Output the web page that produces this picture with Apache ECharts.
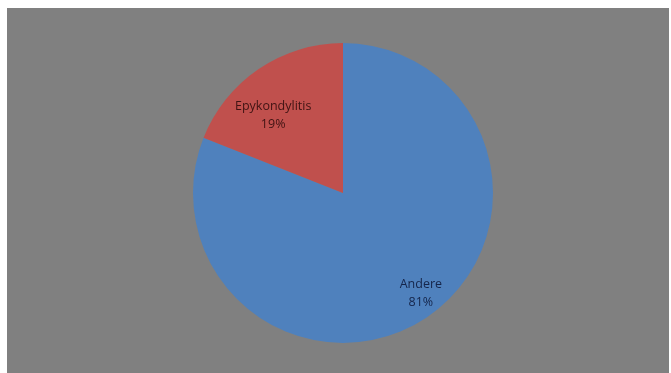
<!DOCTYPE html>
<html>
<head>
<meta charset="utf-8">
<script src="https://cdn.jsdelivr.net/npm/echarts@6/dist/echarts.min.js"></script>
<style>
	html, body { margin: 0; padding: 0; background: #fff; }
	#wrap { position: absolute; left: 7px; top: 8px; width: 662px; height: 365px; background: #808080; }
	#chart { width: 662px; height: 365px; }
</style>
</head>
<body>
<div id="wrap"><div id="chart"></div></div>
<script>
	var names = ['Andere', 'Epykondylitis'];
	var values = [81, 19];
	var sliceColors = ['#4f81bd', '#c0504d'];
	var textColors = ['#15254a', '#3f1313'];
	// Verschiebung der Beschriftung gegenüber 'inside'
	var labelShift = [[34, 36], [-26, -13]];

	var myChart = echarts.init(document.getElementById('chart'));
	var data = [];
	for (var i = 0; i < names.length; i++) {
		data.push({
			name: names[i],
			value: values[i],
			itemStyle: { color: sliceColors[i] },
			label: { color: textColors[i] }
		});
	}
	var option = {
		backgroundColor: '#808080',
		animation: false,
		series: [{
			type: 'pie',
			center: [336, 185],
			radius: [0, 150],
			startAngle: 90,
			clockwise: true,
			data: data,
			label: {
				show: true,
				position: 'inside',
				formatter: '{b}\n{d}%',
				fontFamily: 'Open Sans',
				fontSize: 12.5,
				lineHeight: 18
			},
			labelLayout: function (params) {
				return { dx: labelShift[params.dataIndex][0], dy: labelShift[params.dataIndex][1] };
			},
			itemStyle: { borderWidth: 0 },
			emphasis: { disabled: true }
		}]
	};
	myChart.setOption(option);
</script>
</body>
</html>
